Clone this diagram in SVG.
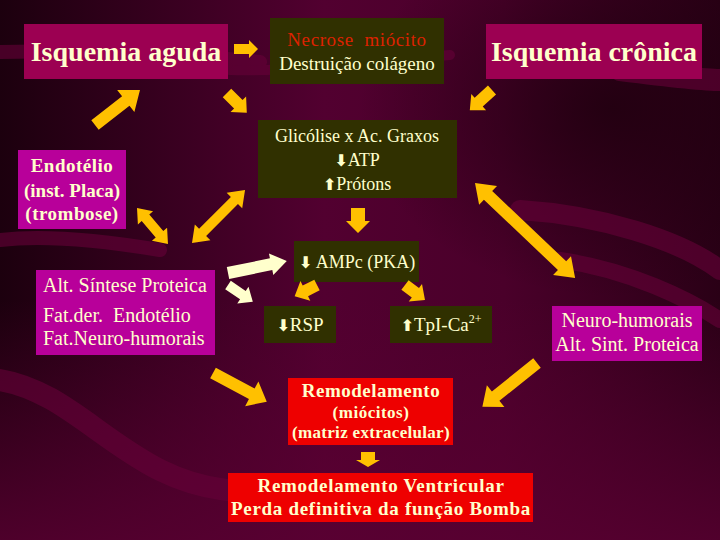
<svg xmlns="http://www.w3.org/2000/svg" width="720" height="540" viewBox="0 0 720 540">
<defs>
<linearGradient id="bg" x1="0" y1="0" x2="1" y2="0">
<stop offset="0" stop-color="#1c000e"/>
<stop offset="0.45" stop-color="#520030"/>
<stop offset="0.7" stop-color="#4a002a"/>
<stop offset="1" stop-color="#2a0016"/>
</linearGradient>
<radialGradient id="tr" cx="0.85" cy="0.2" r="0.35">
<stop offset="0" stop-color="#1e000e" stop-opacity="0.8"/>
<stop offset="1" stop-color="#1e000e" stop-opacity="0"/>
</radialGradient>
<linearGradient id="bot" x1="0" y1="0" x2="0" y2="1">
<stop offset="0" stop-color="#5a0032" stop-opacity="0"/>
<stop offset="1" stop-color="#5a0032" stop-opacity="0.8"/>
</linearGradient>
<style>
.t{fill:#ffffcc;text-anchor:middle}
.ar{font-family:'DejaVu Sans',sans-serif;font-weight:bold}
.y{fill:#ffc000}
.w{fill:#ffffcc}
.band{fill:none;stroke:#660038;stroke-linecap:round}
</style>
</defs>
<rect width="720" height="540" fill="url(#bg)"/>
<rect width="720" height="540" fill="url(#tr)"/>
<rect y="300" width="720" height="240" fill="url(#bot)"/>
<g id="background-bands" opacity="0.6">
<path class="band" stroke-width="14" d="M0,52 C80,50 200,56 260,62"/>
<path class="band" stroke="#2a0014" stroke-width="10" d="M230,70 C300,72 380,60 450,55"/>
<path class="band" stroke-width="22" d="M620,70 C660,75 700,80 720,80"/>
<path class="band" stroke-width="20" d="M520,210 C600,215 680,240 720,270"/>
<path class="band" stroke-width="16" d="M560,260 C630,270 690,300 720,320"/>
<path class="band" stroke-width="22" d="M0,380 C60,390 100,440 160,470 C200,490 240,495 300,490"/>
<path class="band" stroke-width="14" d="M0,240 C40,235 100,240 160,250"/>
</g>

<g font-family="Liberation Serif, DejaVu Serif, Times New Roman, serif">
<g id="n-isquemia-aguda">
<rect x="24" y="24" width="204" height="55" fill="#9c0052"/>
<text class="t" font-weight="bold" x="126" y="61" font-size="28">Isquemia aguda</text>
</g>
<g id="n-necrose">
<rect x="270" y="18" width="174" height="66" fill="#303000"/>
<text class="t" x="357" y="46" font-size="19" letter-spacing="0.6" style="fill:#dd2200" xml:space="preserve">Necrose  miócito</text>
<text class="t" x="357" y="70" font-size="19">Destruição colágeno</text>
</g>
<g id="n-isquemia-cronica">
<rect x="486" y="24" width="216" height="55" fill="#9c0052"/>
<text class="t" font-weight="bold" x="594" y="61" font-size="28">Isquemia crônica</text>
</g>
<g id="n-endotelio">
<rect x="18" y="150" width="108" height="79" fill="#b8009a"/>
<text class="t" font-weight="bold" x="72" y="172" font-size="19" letter-spacing="0.5">Endotélio</text>
<text class="t" font-weight="bold" x="72" y="197" font-size="19">(inst. Placa)</text>
<text class="t" font-weight="bold" x="72" y="220" font-size="19" letter-spacing="0.5">(trombose)</text>
</g>
<g id="n-glicolise">
<rect x="258" y="120" width="199" height="78" fill="#303000"/>
<text class="t" x="357" y="142" font-size="18">Glicólise x Ac. Graxos</text>
<text class="t" x="357" y="166" font-size="18"><tspan class="ar" font-size="16">⬇</tspan>ATP</text>
<text class="t" x="357" y="190" font-size="18"><tspan class="ar" font-size="16">⬆</tspan>Prótons</text>
</g>
<g id="n-ampc">
<rect x="294" y="241" width="125" height="41" fill="#303000"/>
<text class="t" x="357" y="268" font-size="18"><tspan class="ar" font-size="16">⬇</tspan> AMPc (PKA)</text>
</g>
<g id="n-alt-sintese">
<rect x="36" y="270" width="179" height="85" fill="#b8009a"/>
<text class="t" x="43" y="292" font-size="20" style="text-anchor:start">Alt. Síntese Proteica</text>
<text class="t" x="43" y="322" font-size="20" style="text-anchor:start" xml:space="preserve">Fat.der.  Endotélio</text>
<text class="t" x="43" y="345" font-size="20" style="text-anchor:start">Fat.Neuro-humorais</text>
</g>
<g id="n-rsp">
<rect x="264" y="306" width="72" height="37" fill="#303000"/>
<text class="t" x="300" y="331" font-size="19"><tspan class="ar" font-size="16">⬇</tspan>RSP</text>
</g>
<g id="n-tpi">
<rect x="390" y="306" width="102" height="37" fill="#303000"/>
<text class="t" x="441" y="331" font-size="19"><tspan class="ar" font-size="16">⬆</tspan>TpI-Ca<tspan font-size="12" dy="-8">2+</tspan></text>
</g>
<g id="n-neuro-humorais">
<rect x="552" y="306" width="150" height="55" fill="#b8009a"/>
<text class="t" x="627" y="327" font-size="20">Neuro-humorais</text>
<text class="t" x="627" y="351" font-size="20">Alt. Sint. Proteica</text>
</g>
<g id="n-remodelamento">
<rect x="288" y="378" width="165" height="67" fill="#ee0000"/>
<text class="t" font-weight="bold" x="371" y="397" font-size="19" letter-spacing="0.5">Remodelamento</text>
<text class="t" font-weight="bold" x="371" y="418" font-size="17" letter-spacing="0.5">(miócitos)</text>
<text class="t" font-weight="bold" x="371" y="438" font-size="17" letter-spacing="0.3">(matriz extracelular)</text>
</g>
<g id="n-remodelamento-ventricular">
<rect x="228" y="473" width="305" height="49" fill="#ee0000"/>
<text class="t" font-weight="bold" x="381" y="492" font-size="19" letter-spacing="0.7">Remodelamento Ventricular</text>
<text class="t" font-weight="bold" x="381" y="515" font-size="19" letter-spacing="0.7">Perda definitiva da função Bomba</text>
</g>
</g>

<g id="connectors">
<path class="y" transform="translate(234,49)" d="M0,-5 H15 V-9 L24,0 L15,9 V5 H0 Z"/>
<path class="y" transform="translate(95,125) rotate(-37.9)" d="M0,-6 H39 V-14 L57,0 L39,14 V6 H0 Z"/>
<path class="y" transform="translate(227,93) rotate(45)" d="M0,-6 H16 V-11 L28,0 L16,11 V6 H0 Z"/>
<path class="y" transform="translate(492,90) rotate(137.7)" d="M0,-6 H18 V-11 L30,0 L18,11 V6 H0 Z"/>
<path class="y" transform="translate(137,208) rotate(49.3)" d="M0,0 L13,-10 V-5 H34.5 V-10 L47.5,0 L34.5,10 V5 H13 V10 Z"/>
<path class="y" transform="translate(192,243) rotate(-45)" d="M0,0 L15,-11 V-5 H60 V-11 L75,0 L60,11 V5 H15 V11 Z"/>
<path class="y" transform="translate(358,208) rotate(90)" d="M0,-7 H13 V-12 L25,0 L13,12 V7 H0 Z"/>
<path class="y" transform="translate(475,183) rotate(43.5)" d="M0,0 L18,-13 V-6 H120 V-13 L138,0 L120,13 V6 H18 V13 Z"/>
<path class="w" transform="translate(228,273) rotate(-11.5)" d="M0,-6 H44 V-11 L60,0 L44,11 V6 H0 Z"/>
<path class="w" transform="translate(228,285) rotate(34.2)" d="M0,-5 H18 V-10 L30,0 L18,10 V5 H0 Z"/>
<path class="y" transform="translate(317,285) rotate(153.4)" d="M0,-6 H13 V-11 L25,0 L13,11 V6 H0 Z"/>
<path class="y" transform="translate(405,285) rotate(36.9)" d="M0,-6 H13 V-11 L25,0 L13,11 V6 H0 Z"/>
<path class="y" transform="translate(213,373) rotate(28.2)" d="M0,-6 H44 V-14 L61,0 L44,14 V6 H0 Z"/>
<path class="y" transform="translate(537,363) rotate(141.3)" d="M0,-6 H53 V-14 L70,0 L53,14 V6 H0 Z"/>
<path class="y" transform="translate(368,452) rotate(90)" d="M0,-7 H8 V-12 L15,0 L8,12 V7 H0 Z"/>
</g>
</svg>
